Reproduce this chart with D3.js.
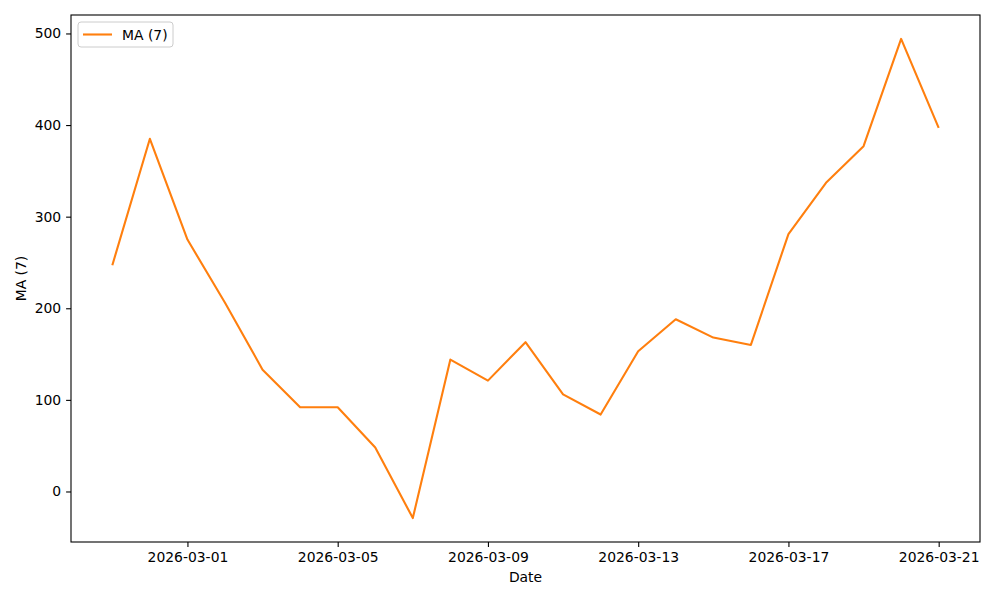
<!DOCTYPE html>
<html>
<head>
<meta charset="utf-8">
<script src="https://cdn.jsdelivr.net/npm/d3@7"></script>
<style>
  body { margin: 0; background: #fff; }
  svg text { font-family: "DejaVu Sans", sans-serif; }
</style>
</head>
<body>
<div id="chart"></div>
<script>
// data
const dates = ["2026-02-27","2026-02-28","2026-03-01","2026-03-02","2026-03-03","2026-03-04","2026-03-05",
  "2026-03-06","2026-03-07","2026-03-08","2026-03-09","2026-03-10","2026-03-11","2026-03-12","2026-03-13",
  "2026-03-14","2026-03-15","2026-03-16","2026-03-17","2026-03-18","2026-03-19","2026-03-20","2026-03-21"];
const ma7 = [247, 385, 275, 206, 133, 92, 92, 48, -29, 144, 121, 163, 106, 84, 153,
  188, 168, 160, 281, 337, 377, 494, 397];
const xTicks = ["2026-03-01","2026-03-05","2026-03-09","2026-03-13","2026-03-17","2026-03-21"];
const yTicks = [0, 100, 200, 300, 400, 500];
const seriesName = "MA (7)";

const W = 1000, H = 600;
const margin = { top: 15, right: 20, bottom: 58, left: 71 },
    width = W - margin.left - margin.right,
    height = H - margin.top - margin.bottom;

const parse = d3.utcParse("%Y-%m-%d");
const fmt = d3.utcFormat("%Y-%m-%d");
const data = dates.map((d, i) => ({ date: parse(d), v: ma7[i] }));

const svg = d3.select("#chart").append("svg")
    .attr("width", W).attr("height", H);
const g = svg.append("g")
    .attr("transform", "translate(" + margin.left + "," + margin.top + ")");

// matplotlib-like 5% auto margins
const xExt = d3.extent(data, d => d.date);
const xPad = (xExt[1] - xExt[0]) * 0.05;
const xScale = d3.scaleUtc()
    .domain([new Date(+xExt[0] - xPad), new Date(+xExt[1] + xPad)])
    .range([0, width]);

const yExt = d3.extent(ma7);
const yPad = (yExt[1] - yExt[0]) * 0.05;
const yScale = d3.scaleLinear()
    .domain([yExt[0] - yPad, yExt[1] + yPad])
    .range([height, 0]);

const xAxis = d3.axisBottom(xScale)
    .tickValues(xTicks.map(parse))
    .tickFormat(fmt)
    .tickSizeInner(4.9).tickSizeOuter(0).tickPadding(4.9);
const yAxis = d3.axisLeft(yScale)
    .tickValues(yTicks)
    .tickSizeInner(4.9).tickSizeOuter(0).tickPadding(4.9);

const gx = g.append("g").attr("transform", "translate(0," + height + ")").call(xAxis);
const gy = g.append("g").call(yAxis);
[gx, gy].forEach(a => {
  a.select(".domain").remove();
  a.selectAll(".tick line").attr("stroke", "#000").attr("stroke-width", 1.1);
  a.selectAll(".tick text").attr("fill", "#000")
    .attr("font-size", "13.9px").attr("font-family", "DejaVu Sans, sans-serif");
});

const line = d3.line()
    .x(d => xScale(d.date))
    .y(d => yScale(d.v));

g.append("path")
    .datum(data)
    .attr("fill", "none")
    .attr("stroke", "#ff7f0e")
    .attr("stroke-width", 2.1)
    .attr("stroke-linejoin", "round")
    .attr("d", line);

// frame
g.append("rect")
    .attr("width", width).attr("height", height)
    .attr("fill", "none").attr("stroke", "#000").attr("stroke-width", 1.1);

// axis labels
g.append("text")
    .attr("x", width / 2).attr("y", height + 40)
    .attr("text-anchor", "middle").attr("font-size", "13.9px")
    .text("Date");

g.append("text")
    .attr("transform", "rotate(-90)")
    .attr("x", -height / 2).attr("y", -45)
    .attr("text-anchor", "middle").attr("font-size", "13.9px")
    .text(seriesName);

// legend
const leg = g.append("g").attr("transform", "translate(7,7)");
leg.append("rect")
    .attr("width", 95).attr("height", 25).attr("rx", 3)
    .attr("fill", "#fff").attr("fill-opacity", 0.8)
    .attr("stroke", "#ccc").attr("stroke-width", 1);
leg.append("line")
    .attr("x1", 5).attr("x2", 34).attr("y1", 12.5).attr("y2", 12.5)
    .attr("stroke", "#ff7f0e").attr("stroke-width", 2.1);
leg.append("text")
    .attr("x", 44).attr("y", 17.5)
    .attr("font-size", "13.9px")
    .text(seriesName);
</script>
</body>
</html>
